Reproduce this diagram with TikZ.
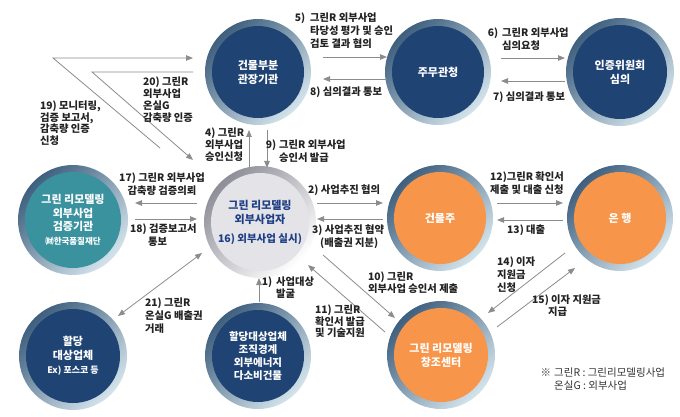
\documentclass[tikz,border=0pt]{standalone}
\usepackage{fontspec}
\setmainfont{Noto Sans CJK KR}
\usetikzlibrary{calc,arrows.meta}
\definecolor{navy}{HTML}{1F4373}
\definecolor{ringdark}{HTML}{3E5F7E}
\definecolor{ringlight}{HTML}{D4E4EC}
\definecolor{orng}{HTML}{F7964A}
\definecolor{tealc}{HTML}{3A929E}
\definecolor{ctrfill}{HTML}{E3E3E8}
\definecolor{ctrdark}{HTML}{8E8E98}
\definecolor{ctrtext}{HTML}{1F3F85}
\definecolor{argray}{HTML}{8C8C8C}
\definecolor{lbltext}{HTML}{222222}
\newcommand{\ctxt}{\fontsize{11}{14}\selectfont\bfseries}
\newcommand{\lfont}{\fontsize{10.3}{12.8}\selectfont\bfseries}
\tikzset{
  ball/.style n args={4}{circle, inner sep=0pt, minimum size=#1,
    top color=#2, bottom color=#3, shading angle=45,
    path picture={\fill[#4] (path picture bounding box.center) circle[radius=0.5*#1-7pt];},
    align=center, font=\ctxt, text=white},
  arr/.style={draw=argray, line width=0.8pt, -{Triangle[length=7pt,width=5.5pt]}},
  darr/.style={draw=argray, line width=0.8pt, {Triangle[length=7pt,width=5.5pt]}-{Triangle[length=7pt,width=5.5pt]}},
  lbl/.style={inner sep=0pt, align=left, font=\lfont, text=lbltext, anchor=north west},
}
\begin{document}
\begin{tikzpicture}[x=1pt,y=-1pt]
\useasboundingbox (0,0) rectangle (680,417);
\fill[white] (0,0) rectangle (680,417);

% circles
\node[ball={106pt}{ringdark}{ringlight}{navy}] (b1) at (258,72) {건물부분\\관장기관};
\node[ball={106pt}{ringdark}{ringlight}{navy}] (b2) at (438,72) {주무관청};
\node[ball={108pt}{ringdark}{ringlight}{navy}] (b3) at (620,72) {인증위원회\\심의};
\node[ball={112pt}{ctrdark}{white}{ctrfill}, text=ctrtext] (c) at (260,222)
  {그린 리모델링\\외부사업자\\[5pt]{\fontsize{10.5}{13}\selectfont\bfseries 16) 외부사업 실시)}};
\node[ball={106pt}{ringdark}{ringlight}{orng}] (o1) at (440,218) {건물주};
\node[ball={106pt}{ringdark}{ringlight}{orng}] (o2) at (620,218) {은 행};
\node[ball={110pt}{ringdark}{ringlight}{tealc}, font=\fontsize{11}{13.5}\selectfont\bfseries] (t) at (73,220)
  {그린 리모델링\\외부사업\\검증기관\\{\fontsize{8.5}{10}\selectfont ㈶한국품질재단}};
\node[ball={108pt}{ringdark}{ringlight}{navy}] (n1) at (73,356)
  {할당\\대상업체\\{\fontsize{9}{11}\selectfont Ex) 포스코 등}};
\node[ball={106pt}{ringdark}{ringlight}{navy}, font=\fontsize{10.5}{12.7}\selectfont\bfseries] (n2) at (258,356)
  {할당대상업체\\조직경계\\외부에너지\\다소비건물};
\node[ball={108pt}{ringdark}{ringlight}{orng}] (o3) at (441,355) {그린 리모델링\\창조센터};

% arrows
\draw[arr] ($(b1)+(65,-15)$) -- ($(b2)+(-51,-15)$);
\draw[arr] ($(b2)+(-51,7)$) -- ($(b1)+(65,7)$);
\draw[arr] ($(b2)+(63,-14)$) -- ($(b3)+(-55,-14)$);
\draw[arr] ($(b3)+(-55,9)$) -- ($(b2)+(63,9)$);
\draw[arr] ($(c)+(-11,-55)$) -- ($(b1)+(-9,58)$);
\draw[arr] ($(b1)+(9,58)$) -- ($(c)+(7,-54)$);
\draw[arr] ($(c)+(57,-19)$) -- ($(o1)+(-57,-15)$);
\draw[arr] ($(o1)+(-57,1)$) -- ($(c)+(57,-3)$);
\draw[arr] ($(o1)+(57,-15)$) -- ($(o2)+(-57,-15)$);
\draw[arr] ($(o2)+(-57,2)$) -- ($(o1)+(57,2)$);
\draw[arr] ($(c)+(-63,-19)$) -- ($(t)+(62,-17)$);
\draw[arr] ($(t)+(62,-1)$) -- ($(c)+(-63,-3)$);
\draw[arr] ($(c)+(-100,-74)$) -- ($(b1)+(-205,-14)$) -- ($(b1)+(-65,-14)$);
\draw[arr] ($(b1)+(-65,0)$) -- ($(b1)+(-166,0)$) -- ($(c)+(-67,-62)$);
\draw[darr] ($(n1)+(45,-40)$) -- ($(c)+(-58,31)$);
\draw[arr] ($(n2)+(1,-54)$) -- ($(c)+(-1,56)$);
\draw[arr] ($(c)+(63,33)$) -- ($(o3)+(-46,-37)$);
\draw[arr] ($(o3)+(-56,-23)$) -- ($(c)+(48,43)$);
\draw[arr] ($(o2)+(-55,35)$) -- ($(o3)+(47,-42)$);
\draw[arr] ($(o3)+(56,-28)$) -- ($(o2)+(-45,50)$);

% labels
\node[lbl] (l5) at (310,13) {\llap{5)\hspace{5pt}}그린R 외부사업\\타당성 평가 및 승인\\검토 결과 협의};
\node[lbl] (l8) at (310,87) {8) 심의결과 통보};
\node[lbl] (l6) at (502,28) {\llap{6)\hspace{4pt}}그린R 외부사업\\심의요청};
\node[lbl] (l7) at (493,92) {7) 심의결과 통보};
\node[lbl, font=\fontsize{10.3}{12}\selectfont\bfseries] (l4) at (205,128) {4) 그린R\\외부사업\\승인신청};
\node[lbl] (l9) at (279,140) {\llap{9)\hspace{3pt}}그린R 외부사업\\승인서 발급};
\node[lbl] (l2) at (308,185) {2) 사업추진 협의};
\node[lbl] (l3) at (312,225) {3) 사업추진 협약\\\hspace*{8pt}(배출권 지분)};
\node[lbl] (l12) at (490,172) {12)그린R 확인서\\제출 및 대출 신청};
\node[lbl] (l13) at (507,225) {13) 대출};
\node[lbl, align=center, anchor=north] (l17) at (162,173) {17) 그린R 외부사업\\감축량 검증의뢰};
\node[lbl] (l18) at (130,224) {18) 검증보고서\\\hspace*{18pt}통보};
\node[lbl, font=\fontsize{10.3}{11.5}\selectfont\bfseries] (l19) at (40,101) {19) 모니터링,\\검증 보고서,\\감축량 인증\\신청};
\node[lbl, font=\fontsize{10.3}{12}\selectfont\bfseries] (l20) at (143,77) {20) 그린R\\외부사업\\온실G\\감축량 인증};
\node[lbl] (l21) at (145,298) {21) 그린R\\온실G 배출권\\거래};
\node[lbl, font=\fontsize{10.3}{11.5}\selectfont\bfseries] (l1) at (276,277) {\llap{1)\hspace{4pt}}사업대상\\발굴};
\node[lbl, font=\fontsize{10.3}{12}\selectfont\bfseries] (l10) at (368,272) {10) 그린R\\외부사업 승인서 제출};
\node[lbl, font=\fontsize{10.3}{11.5}\selectfont\bfseries] (l11) at (315,305) {11) 그린R\\확인서 발급\\및 기술지원};
\node[lbl] (l14) at (497,257) {14) 이자\\지원금\\신청};
\node[lbl, font=\fontsize{10.3}{12}\selectfont\bfseries] (l15) at (532,295) {15) 이자 지원금\\\hspace*{16pt}지급};
\node[lbl, font=\fontsize{10.5}{13}\selectfont, text=black!80] (note) at (554,368) {\llap{※\hspace{3pt}}그린R : 그린리모델링사업\\온실G : 외부사업};
\end{tikzpicture}
\end{document}
